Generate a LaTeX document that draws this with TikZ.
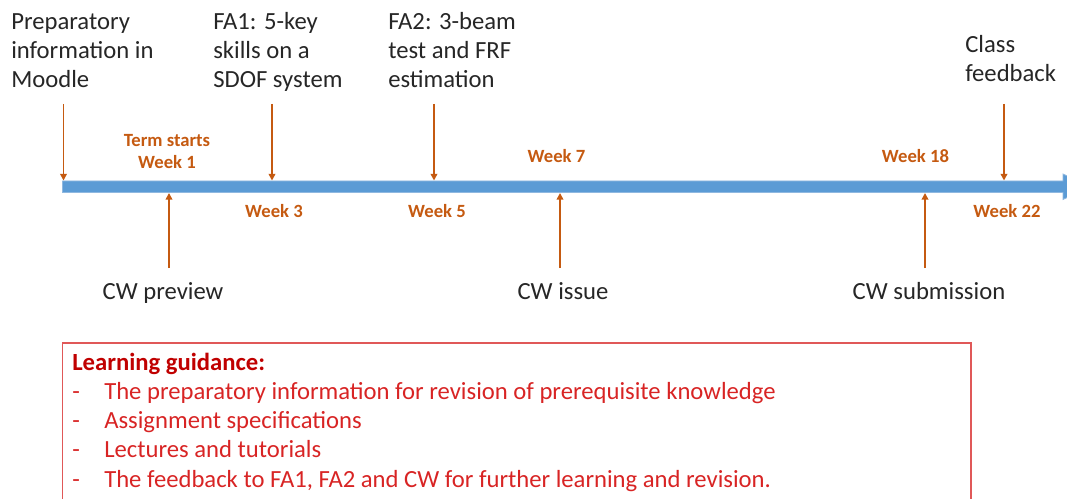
\documentclass[tikz,border=0pt]{standalone}
\usepackage{fontspec}
\setmainfont{Carlito}
\usetikzlibrary{arrows.meta}
\definecolor{wkorange}{HTML}{C55A11}
\definecolor{barblue}{HTML}{5B9BD5}
\definecolor{baredge}{HTML}{8FB8E0}
\definecolor{txtgray}{HTML}{262626}
\definecolor{guidered}{HTML}{C00000}
\definecolor{itemred}{HTML}{D82424}
\definecolor{boxred}{HTML}{E05858}
\tikzset{>=latex}
\tikzset{
    event/.style={font=\fontsize{18.5}{21.75}\selectfont, text=txtgray,
        align=left, anchor=base west, inner sep=0pt},
    week/.style={font=\fontsize{14}{16.5}\selectfont\bfseries, text=wkorange,
        align=center, anchor=base, inner sep=0pt},
    cw/.style={font=\fontsize{18.5}{21.75}\selectfont, text=txtgray,
        anchor=base, inner sep=0pt},
    guide/.style={font=\fontsize{18.5}{21.75}\selectfont, text=itemred,
        anchor=base west, inner sep=0pt},
    tick/.style={wkorange, line width=1.2pt, -{Triangle[length=5pt,width=5pt]}},
}
% arrow from #1 to the bar, named #2 (top) and #3 (bar end)
\newcommand\downtick[2]{
    \coordinate (#2-top) at (#1,104);
    \coordinate (#2-bar) at (#1,180.5);
    \draw[tick] (#2-top) -- (#2-bar);
}
\newcommand\uptick[2]{
    \coordinate (#2-low) at (#1,268);
    \coordinate (#2-bar) at (#1,193);
    \draw[tick] (#2-low) -- (#2-bar);
}

\begin{document}
\begin{tikzpicture}[x=0.75pt,y=-0.75pt]
    \useasboundingbox (0,0) rectangle (1067,499);
    \clip (0,0) rectangle (1067,499);

    % the time line
    \filldraw[fill=barblue,draw=baredge,line width=0.6pt]
        (62.5,181) -- (1063,181) -- (1063,174) -- (1090,186.75)
        -- (1063,199.5) -- (1063,192.5) -- (62.5,192.5) -- cycle;

    % events above the line (base = last line)
    \node[event] (prep) at (11,87.5) {Preparatory\\information in\\Moodle};
    \node[event] (fa1) at (213,88) {FA1: 5-key\\skills on a\\SDOF system};
    \node[event] (fa2) at (388,88) {FA2: 3-beam\\test and FRF\\estimation};
    \node[event] (class) at (965,82) {Class\\feedback};

    \downtick{63.5}{prep}
    \downtick{272}{fa1}
    \downtick{434}{fa2}
    \downtick{1004}{class}

    % weeks
    \node[week] (wk1) at (167,169) {Term starts\\Week 1};
    \node[week] (wk3) at (274,218) {Week 3};
    \node[week] (wk5) at (437,218) {Week 5};
    \node[week] (wk7) at (556.5,163) {Week 7};
    \node[week] (wk18) at (915.5,163) {Week 18};
    \node[week] (wk22) at (1007,218) {Week 22};

    % coursework below the line
    \uptick{169}{prev}
    \uptick{560}{issue}
    \uptick{925}{sub}

    \node[cw] (prev) at (163,299.5) {CW preview};
    \node[cw] (issue) at (563,299.5) {CW issue};
    \node[cw] (sub) at (929,299.5) {CW submission};

    % guidance box
    \draw[boxred,line width=1.1pt] (62.5,343) rectangle (971,530);
    \node[guide,text=guidered,font=\fontsize{18.5}{21.75}\selectfont\bfseries]
        (title) at (72,370.5) {Learning guidance:};
    \foreach \i/\y/\t in {1/399.5/The preparatory information for revision of prerequisite knowledge,
                          2/428.5/Assignment specifications,
                          3/457.5/Lectures and tutorials,
                          4/487/The feedback to FA1{,} FA2 and CW for further learning and revision.}{
        \node[guide] (dash\i) at (72,\y) {-};
        \node[guide] (item\i) at (104,\y) {\t};
    }
\end{tikzpicture}
\end{document}
